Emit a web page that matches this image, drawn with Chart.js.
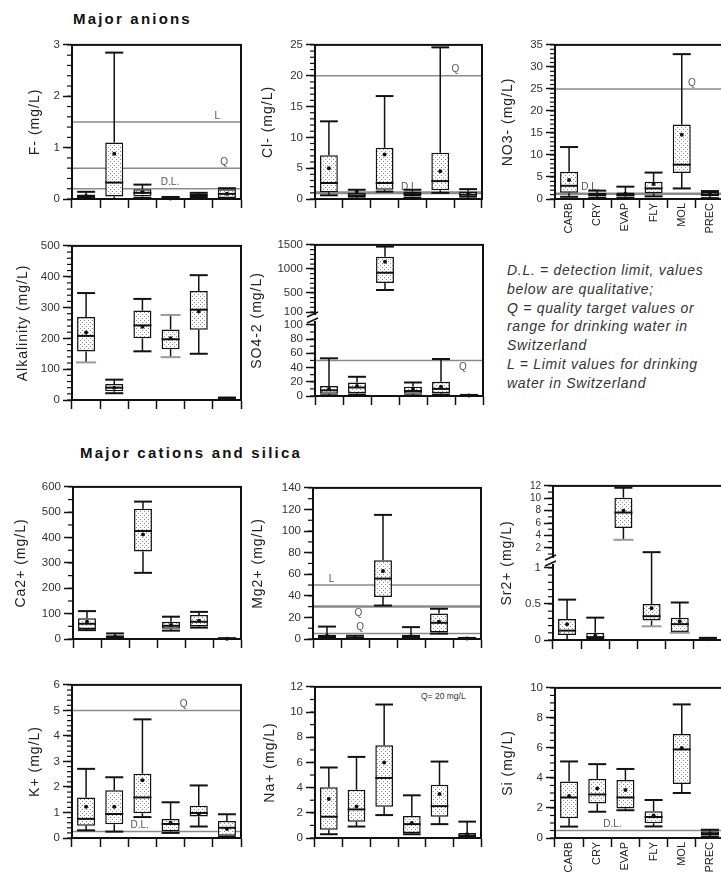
<!DOCTYPE html>
<html>
<head>
<meta charset="utf-8">
<title>Groundwater chemistry by aquifer type</title>
<script src="https://cdn.jsdelivr.net/npm/chart.js@4.4.1/dist/chart.umd.min.js"></script>
<style>
  html, body { margin: 0; padding: 0; background: #fff; }
  body { position: relative; width: 721px; height: 881px; overflow: hidden; font-family: "Liberation Sans", Arial, sans-serif; }
  canvas { position: absolute; }
  .head { position: absolute; font-weight: bold; font-size: 15px; letter-spacing: 2.2px; color: #111; white-space: nowrap; }
  .note { position: absolute; left: 507px; top: 261px; font-style: italic; font-size: 14px; letter-spacing: 0.7px; line-height: 18.8px; color: #333; white-space: nowrap; }
  .tag { position: absolute; font-size: 8.5px; color: #333; white-space: nowrap; }
</style>
</head>
<body>
<div class="head" style="left:73px;top:10px">Major anions</div>
<div class="head" style="left:80px;top:444px">Major cations and silica</div>
<div class="note">D.L. = detection limit, values<br>below are qualitative;<br>Q = quality target values or<br>range for drinking water in<br>Switzerland<br>L = Limit values for drinking<br>water in Switzerland</div>
<div class="tag" style="left:421px;top:691px">Q= 20 mg/L</div>
<script>
// ---- aquifer categories ----
const categories = ['CARB', 'CRY', 'EVAP', 'FLY', 'MOL', 'PREC'];

// ---- F- (mg/L) ----
const fluorideLow    = [0.01, 0.00, 0.02, 0.00, 0.02, 0.00];
const fluorideQ1     = [0.02, 0.05, 0.05, 0.00, 0.04, 0.02];
const fluorideMedian = [0.05, 0.32, 0.12, 0.01, 0.07, 0.10];
const fluorideQ3     = [0.09, 1.10, 0.19, 0.03, 0.10, 0.19];
const fluorideHigh   = [0.14, 2.85, 0.28, 0.04, 0.12, 0.21];
const fluorideMean   = [0.06, 0.88, 0.13, 0.01, 0.07, 0.10];
const fluorideTicks  = [0, 1, 2, 3];
const fluorideRefs   = [1.5, 0.6, 0.2];
const fluorideRefTags = ['L', 'Q', 'D.L.'];

// ---- Cl- (mg/L) ----
const chlorideLow    = [0.6, 0.1, 1.2, 0.2, 1.0, 0.1];
const chlorideQ1     = [1.1, 0.3, 1.5, 0.4, 1.4, 0.3];
const chlorideMedian = [2.6, 0.6, 2.6, 0.8, 2.9, 0.7];
const chlorideQ3     = [7.1, 1.0, 8.3, 1.2, 7.5, 1.2];
const chlorideHigh   = [12.6, 1.5, 16.7, 1.5, 24.6, 1.6];
const chlorideMean   = [5.0, 1.2, 7.2, 0.8, 4.5, 0.8];
const chlorideTicks  = [0, 5, 10, 15, 20, 25];
const chlorideRefs   = [20, 1];
const chlorideRefTags = ['Q', 'D.L.'];

// ---- NO3- (mg/L) ----
const nitrateLow    = [0.5, 0.3, 0.3, 0.6, 2.4, 0.2];
const nitrateQ1     = [1.4, 0.6, 0.6, 1.3, 5.9, 0.6];
const nitrateMedian = [3.0, 1.0, 0.9, 2.4, 7.8, 1.0];
const nitrateQ3     = [6.2, 1.4, 1.5, 3.9, 16.9, 1.6];
const nitrateHigh   = [11.8, 1.9, 2.8, 6.0, 32.9, 1.8];
const nitrateMean   = [4.3, 1.0, 1.2, 3.4, 14.6, 1.0];
const nitrateTicks  = [0, 5, 10, 15, 20, 25, 30, 35];
const nitrateRefs   = [25, 1.2];
const nitrateRefTags = ['Q', 'D.L.'];

// ---- Alkalinity (mg/L) ----
const alkalinityLow      = [null, 22, 158, null, 150, 1];
const alkalinityQ1       = [157, 28, 200, 165, 228, 2];
const alkalinityMedian   = [208, 40, 242, 197, 293, 4];
const alkalinityQ3       = [269, 52, 290, 229, 354, 6];
const alkalinityHigh     = [347, 66, 328, null, 405, 8];
const alkalinityMean     = [219, 40, 238, 200, 287, 4];
const alkalinityGrayLow  = [122, null, null, 139, null, null];
const alkalinityGrayHigh = [null, null, null, 276, null, null];
const alkalinityTicks    = [0, 100, 200, 300, 400, 500];

// ---- SO4-2 (mg/L), broken axis ----
const sulfateLow    = [1, 2, 560, 1, 2, 0];
const sulfateQ1     = [3, 4, 707, 3, 4, 0.2];
const sulfateMedian = [8, 12, 920, 7, 10, 0.5];
const sulfateQ3     = [14, 19, 1252, 13, 20, 1];
const sulfateHigh   = [53, 27, 1465, 19, 52, 1.5];
const sulfateMean   = [10, 14, 1150, 9, 13, 0.6];
const sulfateTicksLow  = [0, 20, 40, 60, 80, 100];
const sulfateTicksHigh = [100, 500, 1000, 1500];
const sulfateRefs   = [50];
const sulfateRefTags = ['Q'];

// ---- Ca2+ (mg/L) ----
const calciumLow    = [35, 1, 261, 33, 45, 0];
const calciumQ1     = [39, 3, 345, 40, 49, 0.5];
const calciumMedian = [60, 8, 426, 52, 68, 1];
const calciumQ3     = [82, 15, 514, 68, 95, 2];
const calciumHigh   = [110, 22, 542, 88, 107, 3];
const calciumMean   = [68, 9, 412, 55, 72, 1];
const calciumTicks  = [0, 100, 200, 300, 400, 500, 600];

// ---- Mg2+ (mg/L) ----
const magnesiumLow    = [0, 0, 31, 0, 5, 0];
const magnesiumQ1     = [0.5, 0.3, 39, 0.5, 6, 0.1];
const magnesiumMedian = [2, 1, 56, 2, 15, 0.3];
const magnesiumQ3     = [4, 2, 73, 4, 23.7, 0.6];
const magnesiumHigh   = [11.5, 3, 115, 11, 28, 1];
const magnesiumMean   = [3, 1.2, 63, 2.5, 16, 0.4];
const magnesiumTicks  = [0, 20, 40, 60, 80, 100, 120, 140];
const magnesiumRefs   = [50, 30, 5];
const magnesiumRefTags = ['L', 'Q', 'Q'];

// ---- Sr2+ (mg/L), broken axis ----
const strontiumLow     = [0.0, 0.0, null, null, null, 0.0];
const strontiumQ1      = [0.07, 0.01, 5.2, 0.27, 0.11, 0.0];
const strontiumMedian  = [0.13, 0.04, 7.7, 0.33, 0.22, 0.01];
const strontiumQ3      = [0.29, 0.10, 10.1, 0.50, 0.31, 0.02];
const strontiumHigh    = [0.56, 0.31, 11.7, 1.3, 0.52, 0.03];
const strontiumMean    = [0.22, 0.06, 8.0, 0.44, 0.26, 0.01];
const strontiumGrayLow = [null, null, 3.3, 0.19, 0.10, null];
const strontiumTicksLow  = [0, 0.5, 1];
const strontiumTicksHigh = [2, 4, 6, 8, 10, 12];

// ---- K+ (mg/L) ----
const potassiumLow    = [0.30, 0.25, 0.82, 0.20, 0.45, 0.05];
const potassiumQ1     = [0.48, 0.54, 0.97, 0.26, 0.84, 0.09];
const potassiumMedian = [0.75, 0.94, 1.59, 0.55, 0.98, 0.40];
const potassiumQ3     = [1.59, 1.87, 2.52, 0.74, 1.26, 0.67];
const potassiumHigh   = [2.71, 2.38, 4.65, 1.40, 2.06, 0.93];
const potassiumMean   = [1.22, 1.22, 2.26, 0.60, 0.95, 0.35];
const potassiumTicks  = [0, 1, 2, 3, 4, 5, 6];
const potassiumRefs   = [5, 0.25];
const potassiumRefTags = ['Q', 'D.L.'];

// ---- Na+ (mg/L) ----
const sodiumLow    = [0.30, 0.91, 1.82, 0.30, 1.10, 0.00];
const sodiumQ1     = [0.65, 1.30, 2.48, 0.39, 1.69, 0.05];
const sodiumMedian = [1.69, 2.27, 4.77, 1.10, 2.53, 0.20];
const sodiumQ3     = [4.04, 3.83, 7.36, 1.74, 4.22, 0.39];
const sodiumHigh   = [5.60, 6.44, 10.6, 3.39, 6.07, 1.30];
const sodiumMean   = [3.1, 2.5, 6.0, 1.2, 3.5, 0.3];
const sodiumTicks  = [0, 2, 4, 6, 8, 10, 12];

// ---- Si (mg/L) ----
const siliconLow    = [0.76, 1.75, 1.85, 0.77, 3.00, 0.10];
const siliconQ1     = [1.31, 2.30, 1.97, 0.98, 3.59, 0.20];
const siliconMedian = [2.70, 2.90, 2.70, 1.40, 5.90, 0.30];
const siliconQ3     = [3.76, 3.94, 3.87, 1.79, 6.93, 0.45];
const siliconHigh   = [5.10, 4.92, 4.60, 2.53, 8.90, 0.55];
const siliconMean   = [2.8, 3.3, 3.2, 1.5, 6.0, 0.3];
const siliconTicks  = [0, 2, 4, 6, 8, 10];
const siliconRefs   = [0.5];
const siliconRefTags = ['D.L.'];

// ---- drawing helpers ----
Chart.defaults.font.family = '"Liberation Sans", Arial, sans-serif';
Chart.defaults.color = '#333';
const PAD_T = 8, PAD_R = 8, BAR_PCT = 0.64;

function stipple() {
  const c = document.createElement('canvas');
  c.width = 4; c.height = 4;
  const g = c.getContext('2d');
  g.fillStyle = '#ffffff'; g.fillRect(0, 0, 4, 4);
  g.fillStyle = '#8c8c8c';
  g.fillRect(0, 0, 1, 1); g.fillRect(2, 2, 1, 1);
  return g.createPattern(c, 'repeat');
}
const boxFill = stipple();

function seg(ctx, x1, y1, x2, y2) {
  ctx.beginPath(); ctx.moveTo(x1, y1); ctx.lineTo(x2, y2); ctx.stroke();
}

function yPixel(chart, p, v) {
  if (p.upper && v > p.lower.max) return chart.scales.yTop.getPixelForValue(v);
  return chart.scales.y.getPixelForValue(v);
}

function present(list) { return list.filter(v => v !== null && v !== undefined); }

function boxPlugin(p) {
  return {
    id: 'boxplot',
    beforeDatasetsDraw(chart) {
      const { ctx, chartArea: a } = chart;
      ctx.save();
      (p.refs || []).forEach((v, k) => {
        const y = yPixel(chart, p, v);
        ctx.strokeStyle = '#8a8a8a';
        ctx.lineWidth = (p.refWidths && p.refWidths[k]) || 1.5;
        seg(ctx, a.left, y, a.right, y);
        const [fx, side] = p.refPos[k];
        ctx.fillStyle = '#555';
        ctx.font = '10px "Liberation Sans", Arial, sans-serif';
        ctx.textAlign = 'center';
        ctx.textBaseline = side === 'a' ? 'bottom' : 'top';
        ctx.fillText(p.refTags[k], a.left + fx * (a.right - a.left), side === 'a' ? y - 1 : y + 2);
      });
      ctx.restore();
    },
    afterDatasetsDraw(chart) {
      const { ctx } = chart;
      const xs = chart.scales.x;
      const half = (xs.getPixelForValue(1) - xs.getPixelForValue(0)) * BAR_PCT / 2;
      ctx.save();
      categories.forEach((c, i) => {
        const x = xs.getPixelForValue(i);
        const y1 = yPixel(chart, p, p.q1[i]);
        const y3 = yPixel(chart, p, p.q3[i]);
        const gl = p.grayLow ? p.grayLow[i] : null;
        const gh = p.grayHigh ? p.grayHigh[i] : null;
        const bottom = Math.min(...present([p.low[i], gl, p.q1[i]]));
        const top = Math.max(...present([p.high[i], gh, p.q3[i]]));
        ctx.strokeStyle = '#111';
        ctx.lineWidth = 1.5;
        seg(ctx, x, y3, x, yPixel(chart, p, top));
        seg(ctx, x, y1, x, yPixel(chart, p, bottom));
        ctx.lineWidth = 2;
        ctx.strokeStyle = '#9a9a9a';
        if (gl !== null && gl !== undefined) { const y = yPixel(chart, p, gl); seg(ctx, x - half - 1, y, x + half + 1, y); }
        if (gh !== null && gh !== undefined) { const y = yPixel(chart, p, gh); seg(ctx, x - half - 1, y, x + half + 1, y); }
        ctx.strokeStyle = '#111';
        if (p.low[i] !== null) { const y = yPixel(chart, p, p.low[i]); seg(ctx, x - half, y, x + half, y); }
        if (p.high[i] !== null) { const y = yPixel(chart, p, p.high[i]); seg(ctx, x - half, y, x + half, y); }
        const ym = yPixel(chart, p, p.median[i]);
        seg(ctx, x - half, ym, x + half, ym);
        ctx.fillStyle = '#111';
        ctx.beginPath();
        ctx.arc(x, yPixel(chart, p, p.mean[i]), 2, 0, Math.PI * 2);
        ctx.fill();
      });
      ctx.restore();
    },
    afterDraw(chart) {
      const { ctx, chartArea: a } = chart;
      ctx.save();
      ctx.strokeStyle = '#111';
      ctx.lineWidth = 2;
      ctx.strokeRect(a.left, a.top, a.right - a.left, a.bottom - a.top);
      ctx.lineWidth = 1.2;
      p.minor.forEach(m => {
        const s = chart.scales[m.axis];
        const n = Math.round((m.to - m.from) / m.step);
        for (let k = 0; k <= n; k++) {
          const y = s.getPixelForValue(m.from + k * m.step);
          seg(ctx, a.left - 5, y, a.left, y);
        }
      });
      if (p.upper) {
        const b = Math.min(chart.scales.y.top, chart.scales.yTop.bottom);
        ctx.fillStyle = '#fff';
        ctx.fillRect(a.left - 7, b - 3, 10, 6);
        ctx.lineWidth = 1.5;
        seg(ctx, a.left - 8, b - 1, a.left + 3, b - 6);
        seg(ctx, a.left - 8, b + 5, a.left + 3, b);
      }
      ctx.translate(a.left - p.titleOff, (a.top + a.bottom) / 2);
      ctx.rotate(-Math.PI / 2);
      ctx.font = '14px "Liberation Sans", Arial, sans-serif';
      ctx.letterSpacing = '1px';
      ctx.fillStyle = '#222';
      ctx.textAlign = 'center';
      ctx.textBaseline = 'middle';
      ctx.fillText(p.title, 0, 0);
      ctx.restore();
    }
  };
}

function buildPanel(p) {
  const [L, T, R, B] = p.box;
  const axisW = p.titleOff + 11;
  const xH = p.cats ? 48 : 11;
  const W = axisW + (R - L) + PAD_R;
  const H = PAD_T + (B - T) + xH;
  const cv = document.createElement('canvas');
  cv.width = W; cv.height = H;
  cv.style.left = (L - axisW) + 'px';
  cv.style.top = (T - PAD_T) + 'px';
  document.body.appendChild(cv);

  const yAxis = (o) => ({
    type: 'linear', position: 'left', axis: 'y', min: o.min, max: o.max,
    afterBuildTicks: s => { s.ticks = o.ticks.map(v => ({ value: v })); },
    afterFit: s => { s.width = axisW; },
    ticks: { autoSkip: false, callback: v => String(v), font: { size: o.fontSize || 11.5 }, color: '#333', padding: 3 },
    grid: { drawOnChartArea: false, drawTicks: true, tickLength: 9, tickWidth: 1.5, tickColor: '#111' },
    border: { display: true, color: '#111', width: 2 }
  });

  // stacked scales are laid out bottom-up in definition order
  const scales = {};
  scales.y = yAxis(p.lower);
  if (p.upper) {
    Object.assign(scales.y, { stack: 'brk', stackWeight: p.lower.weight });
    scales.yTop = Object.assign(yAxis(p.upper), { stack: 'brk', stackWeight: p.upper.weight });
  }
  scales.x = {
    type: 'category', position: 'bottom', offset: true,
    afterFit: s => { s.height = xH; },
    grid: { offset: true, drawOnChartArea: false, drawTicks: true, tickLength: 9, tickWidth: 1.5, tickColor: '#111' },
    border: { display: true, color: '#111', width: 2 },
    ticks: { display: !!p.cats, minRotation: 90, maxRotation: 90, autoSkip: false, padding: -5, font: { size: 11 }, color: '#222' }
  };

  const inUpper = i => !!(p.upper && p.q1[i] > p.lower.max);
  const bars = upper => ({
    data: p.q1.map((v, i) => (inUpper(i) === upper ? [v, p.q3[i]] : null)),
    yAxisID: upper ? 'yTop' : 'y',
    backgroundColor: boxFill, borderColor: '#111', borderWidth: 1.5, borderSkipped: false,
    barPercentage: BAR_PCT, categoryPercentage: 1, grouped: false
  });
  const datasets = [bars(false)];
  if (p.upper) datasets.push(bars(true));

  new Chart(cv, {
    type: 'bar',
    data: { labels: categories, datasets },
    options: {
      responsive: false, animation: false, events: [],
      layout: { padding: { top: PAD_T, right: PAD_R, left: 0, bottom: 0 } },
      plugins: { legend: { display: false }, tooltip: { enabled: false } },
      scales
    },
    plugins: [boxPlugin(p)]
  });
}

const panels = [
  { title: 'F- (mg/L)', box: [72, 43, 241, 199], titleOff: 37,
    low: fluorideLow, q1: fluorideQ1, median: fluorideMedian, q3: fluorideQ3, high: fluorideHigh, mean: fluorideMean,
    lower: { min: 0, max: 3, ticks: fluorideTicks }, minor: [{ axis: 'y', from: 0, to: 3, step: 0.2 }],
    refs: fluorideRefs, refTags: fluorideRefTags, refPos: [[0.86, 'a'], [0.9, 'a'], [0.58, 'a']] },
  { title: 'Cl- (mg/L)', box: [315, 43, 482, 199], titleOff: 47,
    low: chlorideLow, q1: chlorideQ1, median: chlorideMedian, q3: chlorideQ3, high: chlorideHigh, mean: chlorideMean,
    lower: { min: 0, max: 25, ticks: chlorideTicks }, minor: [{ axis: 'y', from: 0, to: 25, step: 1 }],
    refs: chlorideRefs, refTags: chlorideRefTags, refPos: [[0.84, 'a'], [0.57, 'a']], refWidths: [1.5, 3] },
  { title: 'NO3- (mg/L)', box: [555, 43, 724, 199], titleOff: 47, cats: true,
    low: nitrateLow, q1: nitrateQ1, median: nitrateMedian, q3: nitrateQ3, high: nitrateHigh, mean: nitrateMean,
    lower: { min: 0, max: 35, ticks: nitrateTicks }, minor: [{ axis: 'y', from: 0, to: 35, step: 1 }],
    refs: nitrateRefs, refTags: nitrateRefTags, refPos: [[0.81, 'a'], [0.21, 'a']], refWidths: [1.5, 2.5] },
  { title: 'Alkalinity (mg/L)', box: [72, 244, 241, 400], titleOff: 49,
    low: alkalinityLow, q1: alkalinityQ1, median: alkalinityMedian, q3: alkalinityQ3, high: alkalinityHigh, mean: alkalinityMean,
    grayLow: alkalinityGrayLow, grayHigh: alkalinityGrayHigh,
    lower: { min: 0, max: 500, ticks: alkalinityTicks }, minor: [{ axis: 'y', from: 0, to: 500, step: 20 }] },
  { title: 'SO4-2 (mg/L)', box: [315, 243, 483, 396], titleOff: 58,
    low: sulfateLow, q1: sulfateQ1, median: sulfateMedian, q3: sulfateQ3, high: sulfateHigh, mean: sulfateMean,
    lower: { min: 0, max: 109.7, ticks: sulfateTicksLow, weight: 79 },
    upper: { min: -23.5, max: 1500, ticks: sulfateTicksHigh, weight: 74 },
    minor: [{ axis: 'y', from: 0, to: 100, step: 10 }, { axis: 'yTop', from: 100, to: 1500, step: 100 }],
    refs: sulfateRefs, refTags: sulfateRefTags, refPos: [[0.88, 'b']] },
  { title: 'Ca2+ (mg/L)', box: [73, 485, 241, 639], titleOff: 52,
    low: calciumLow, q1: calciumQ1, median: calciumMedian, q3: calciumQ3, high: calciumHigh, mean: calciumMean,
    lower: { min: 0, max: 600, ticks: calciumTicks }, minor: [{ axis: 'y', from: 0, to: 600, step: 50 }] },
  { title: 'Mg2+ (mg/L)', box: [313, 486, 481, 639], titleOff: 55,
    low: magnesiumLow, q1: magnesiumQ1, median: magnesiumMedian, q3: magnesiumQ3, high: magnesiumHigh, mean: magnesiumMean,
    lower: { min: 0, max: 140, ticks: magnesiumTicks }, minor: [{ axis: 'y', from: 0, to: 140, step: 10 }],
    refs: magnesiumRefs, refTags: magnesiumRefTags, refPos: [[0.11, 'a'], [0.27, 'b'], [0.28, 'a']], refWidths: [1.5, 2.5, 1.5] },
  { title: 'Sr2+ (mg/L)', box: [553, 484, 722, 640], titleOff: 46,
    low: strontiumLow, q1: strontiumQ1, median: strontiumMedian, q3: strontiumQ3, high: strontiumHigh, mean: strontiumMean,
    grayLow: strontiumGrayLow,
    lower: { min: 0, max: 1.096, ticks: strontiumTicksLow, weight: 80 },
    upper: { min: -0.12, max: 12, ticks: strontiumTicksHigh, weight: 76, fontSize: 10 },
    minor: [{ axis: 'y', from: 0, to: 1, step: 0.1 }, { axis: 'yTop', from: 1, to: 12, step: 1 }] },
  { title: 'K+ (mg/L)', box: [72, 683, 241, 838], titleOff: 37,
    low: potassiumLow, q1: potassiumQ1, median: potassiumMedian, q3: potassiumQ3, high: potassiumHigh, mean: potassiumMean,
    lower: { min: 0, max: 6, ticks: potassiumTicks }, minor: [{ axis: 'y', from: 0, to: 6, step: 0.2 }],
    refs: potassiumRefs, refTags: potassiumRefTags, refPos: [[0.66, 'a'], [0.4, 'a']] },
  { title: 'Na+ (mg/L)', box: [315, 685, 481, 838], titleOff: 45,
    low: sodiumLow, q1: sodiumQ1, median: sodiumMedian, q3: sodiumQ3, high: sodiumHigh, mean: sodiumMean,
    lower: { min: 0, max: 12, ticks: sodiumTicks }, minor: [{ axis: 'y', from: 0, to: 12, step: 1 }] },
  { title: 'Si (mg/L)', box: [555, 686, 724, 838], titleOff: 47, cats: true,
    low: siliconLow, q1: siliconQ1, median: siliconMedian, q3: siliconQ3, high: siliconHigh, mean: siliconMean,
    lower: { min: 0, max: 10, ticks: siliconTicks }, minor: [{ axis: 'y', from: 0, to: 10, step: 0.5 }],
    refs: siliconRefs, refTags: siliconRefTags, refPos: [[0.34, 'a']] }
];

panels.forEach(buildPanel);
</script>
</body>
</html>
